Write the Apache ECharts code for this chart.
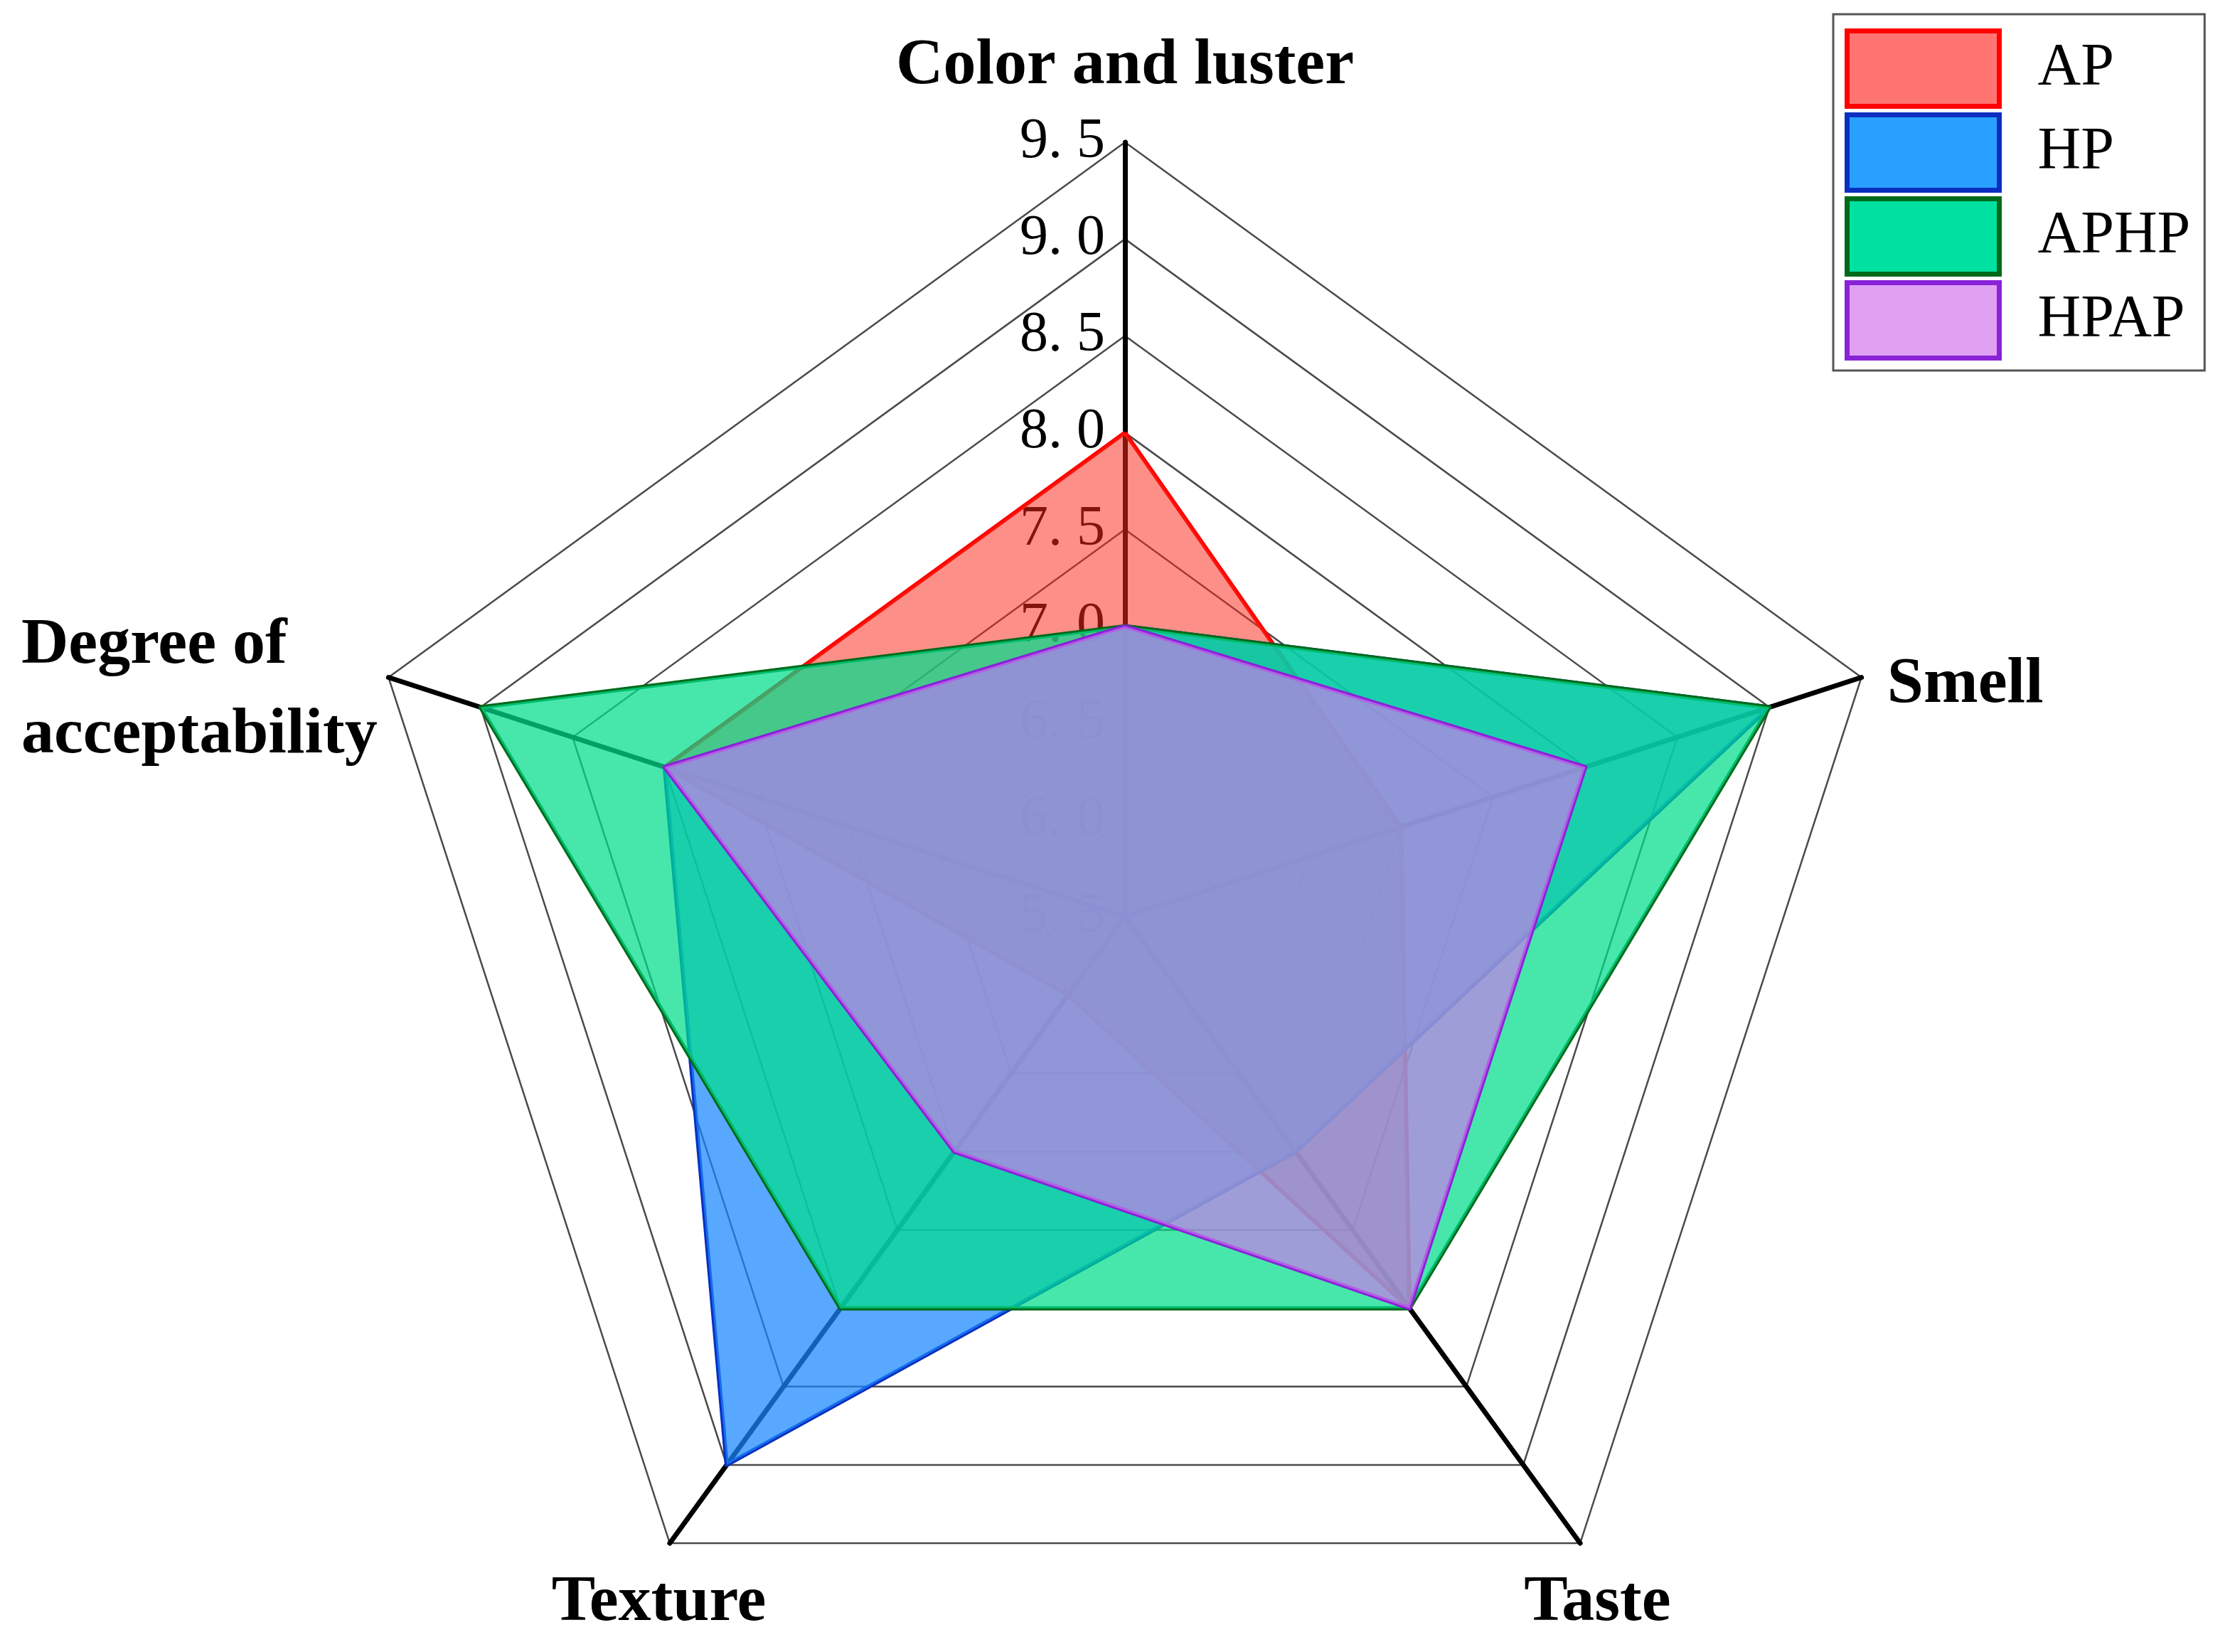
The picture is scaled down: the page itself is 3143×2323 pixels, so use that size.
<!DOCTYPE html>
<html><head><meta charset="utf-8">
<script src="https://cdn.jsdelivr.net/npm/echarts@6/dist/echarts.min.js"></script>
<style>html,body{margin:0;padding:0;background:#fff}#c{width:3143px;height:2323px}</style>
</head><body><div id="c"></div>
<script>
// Indicators in ECharts (counter-clockwise from top) order
const categories = ['Color and luster', 'Degree of\nacceptability', 'Texture', 'Taste', 'Smell'];
const seriesNames = ['AP', 'HP', 'APHP', 'HPAP'];
const AP   = [8.0, 8.0, 6.0, 8.0, 7.0];
const HP   = [7.0, 8.0, 9.0, 7.0, 9.0];
const APHP = [7.0, 9.0, 8.0, 8.0, 9.0];
const HPAP = [7.0, 8.0, 7.0, 8.0, 8.0];
const axisMin = 5.5, axisMax = 9.5, splitCount = 8;

const values = [AP, HP, APHP, HPAP];
const lineColors = ['#ff0000', '#0a2fc0', '#006a1a', '#8a22d8'];
const fillColors = ['rgba(250,40,25,0.52)', 'rgba(25,135,255,0.72)', 'rgba(0,222,140,0.72)', 'rgba(200,122,236,0.68)'];
const legendFill = ['#ff7470', '#28a0ff', '#00e0a0', '#dfa0f2'];

const serifB = 'Liberation Serif';
const nameStyles = [
  { nameGap: 44, nameTextStyle: {} },
  { nameGap: 12, nameTextStyle: { align: 'right', verticalAlign: 'middle', padding: [44, 0, 0, 0] } },
  { nameGap: 26, nameTextStyle: { align: 'center', verticalAlign: 'top' } },
  { nameGap: 26, nameTextStyle: { align: 'center', verticalAlign: 'top', padding: [0, 0, 0, 18] } },
  { nameGap: 38, nameTextStyle: { padding: [44, 0, 0, 0] } }
];

const indicator = categories.map((c, i) => {
  const o = { name: c, min: axisMin, max: axisMax, nameGap: nameStyles[i].nameGap, nameTextStyle: nameStyles[i].nameTextStyle };
  if (i === 0) o.axisLabel = { show: true };
  return o;
});

const chart = echarts.init(document.getElementById('c'), null, { renderer: 'canvas' });
chart.setOption({
  animation: false,
  backgroundColor: '#fff',
  legend: {
    orient: 'vertical',
    left: 2578, top: 20,
    padding: [20, 20, 14, 16],
    borderColor: '#555', borderWidth: 3,
    itemWidth: 214, itemHeight: 106, itemGap: 5,
    icon: 'rect',
    selectedMode: false,
    textStyle: { fontFamily: serifB, fontSize: 84, color: '#000', padding: [0, 0, 0, 49] },
    data: seriesNames.map((n, i) => ({ name: n, itemStyle: { color: legendFill[i], borderColor: lineColors[i], borderWidth: 7 } }))
  },
  radar: {
    center: [1582, 1289],
    radius: 1089,
    startAngle: 90,
    shape: 'polygon',
    splitNumber: splitCount,
    indicator: indicator,
    axisName: {
      color: '#000', fontFamily: serifB, fontWeight: 'bold', fontSize: 92, lineHeight: 126,
      formatter: function (name) {
        if (name.indexOf('\n') >= 0) {
          return name.split('\n').map(s => '{d|' + s + '}').join('\n');
        }
        return name;
      },
      rich: { d: { width: 505, align: 'left', fontFamily: serifB, fontWeight: 'bold', fontSize: 92, lineHeight: 126, color: '#000' } }
    },
    axisLine: { lineStyle: { color: '#000', width: 7 } },
    splitLine: { lineStyle: { color: '#4a4a4a', width: 2.5 } },
    splitArea: { show: false },
    axisTick: { show: false },
    axisLabel: {
      show: false, color: '#000', fontFamily: serifB, fontSize: 80, margin: 28,
      formatter: v => v.toFixed(1).replace('.', '. ')
    }
  },
  series: [{
    type: 'radar',
    symbol: 'none',
    emphasis: { disabled: true },
    data: seriesNames.map((n, i) => ({
      name: n,
      value: values[i],
      symbol: 'none',
      lineStyle: { color: lineColors[i], width: 6 },
      itemStyle: { color: lineColors[i] },
      areaStyle: { color: fillColors[i], opacity: 1 }
    }))
  }]
});
</script></body></html>
